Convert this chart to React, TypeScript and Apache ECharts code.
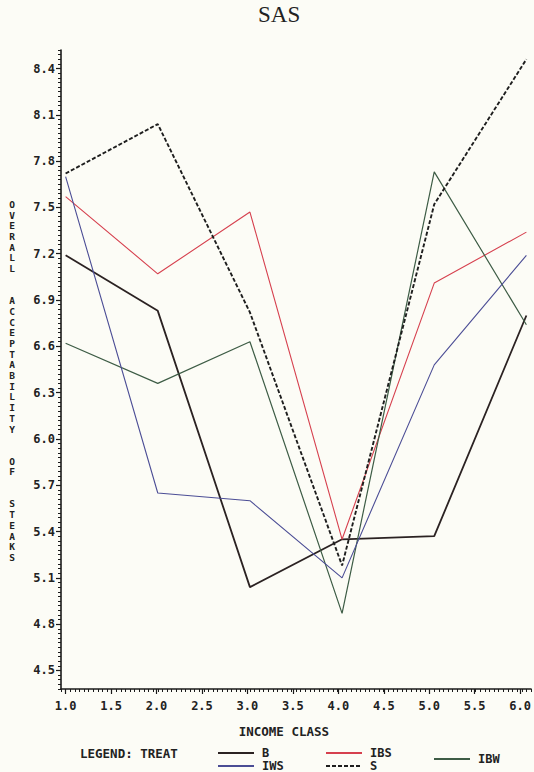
import React, { useEffect, useRef } from 'react';
import * as echarts from 'echarts';

const incomeClass = [1, 2, 3, 4, 5, 6];
const valuesB = [7.19, 6.83, 5.04, 5.35, 5.37, 6.8];
const valuesIBS = [7.57, 7.07, 7.47, 5.35, 7.01, 7.34];
const valuesIBW = [6.62, 6.36, 6.63, 4.87, 7.73, 6.74];
const valuesIWS = [7.7, 5.65, 5.6, 5.1, 6.48, 7.19];
const valuesS = [7.72, 8.04, 6.82, 5.18, 7.52, 8.46];

const yTitle = 'OVERALL  ACCEPTABILITY  OF  STEAKS';
const FONT = '"DejaVu Sans Mono", monospace';

const pairs = (vals: number[]) => incomeClass.map((x, i) => [x, vals[i]]);

export default function App() {
  const ref = useRef<HTMLDivElement>(null);
  useEffect(() => {
    if (!ref.current) return;
    const chart = echarts.init(ref.current, undefined, { renderer: 'svg' });
    const axisColor = '#1a1a1a';
    const mk = (name: string, vals: number[], color: string, width: number, type: any = 'solid') => ({
      name,
      type: 'line',
      xAxisIndex: 0,
      yAxisIndex: 0,
      data: pairs(vals),
      symbol: 'none',
      lineStyle: { color, width, type },
      itemStyle: { color },
      z: 3,
    });
    const legendText = { fontFamily: FONT, fontWeight: 'bold', fontSize: 12, color: '#222', padding: [0, 0, 0, 3] };
    const lg = (name: string, left: number, top: number) => ({
      data: [name],
      left,
      top,
      padding: 0,
      itemWidth: 36,
      itemHeight: 10,
      selectedMode: false,
      itemStyle: { opacity: 0, borderWidth: 0 },
      textStyle: legendText,
    });
    chart.setOption({
      animation: false,
      backgroundColor: 'transparent',
      title: {
        text: 'SAS',
        left: 258,
        top: 3,
        padding: 0,
        textStyle: { fontFamily: '"Liberation Serif", serif', fontWeight: 'normal', fontSize: 23, color: '#222' },
      },
      legend: [lg('B', 217, 747), lg('IWS', 217, 760), lg('IBS', 325, 747), lg('S', 325, 760), lg('IBW', 433, 753)],
      grid: [
        { left: 61, width: 470, top: 50, height: 639 },
        { left: 65.6, width: 460.8, top: 68.52, height: 601.96 },
      ],
      xAxis: [
        {
          type: 'value', gridIndex: 0, min: 0.95, max: 6.05, interval: 0.05,
          axisLine: { show: true, onZero: false, lineStyle: { color: axisColor, width: 1.6 } },
          axisTick: { show: true, length: 3, lineStyle: { color: axisColor, width: 1 } },
          axisLabel: { show: false },
          splitLine: { show: false },
        },
        {
          type: 'value', gridIndex: 1, min: 1, max: 6, interval: 0.5, offset: 18.5,
          axisLine: { show: false },
          axisTick: { show: true, length: 5, lineStyle: { color: axisColor, width: 1.2 } },
          axisLabel: { show: true, margin: 11, formatter: (v: number) => v.toFixed(1), fontFamily: FONT, fontWeight: 'bold', fontSize: 12, color: '#222' },
          splitLine: { show: false },
          name: 'INCOME CLASS',
          nameLocation: 'middle',
          nameGap: 36,
          nameTextStyle: { fontFamily: FONT, fontWeight: 'bold', fontSize: 12.5, color: '#222', padding: [0, 18, 0, 0] },
        },
      ],
      yAxis: [
        {
          type: 'value', gridIndex: 0, min: 4.38, max: 8.52, interval: 0.03,
          axisLine: { show: true, onZero: false, lineStyle: { color: axisColor, width: 1.6 } },
          axisTick: { show: true, length: 3, lineStyle: { color: axisColor, width: 1 } },
          axisLabel: { show: false },
          splitLine: { show: false },
        },
        {
          type: 'value', gridIndex: 1, min: 4.5, max: 8.4, interval: 0.3, offset: 4.6,
          axisLine: { show: false },
          axisTick: { show: true, length: 5, lineStyle: { color: axisColor, width: 1.2 } },
          axisLabel: { show: true, margin: 6, formatter: (v: number) => v.toFixed(1), fontFamily: FONT, fontWeight: 'bold', fontSize: 12, color: '#222' },
          splitLine: { show: false },
        },
      ],
      graphic: [
        {
          type: 'text', x: 12, y: 199,
          style: {
            text: yTitle.split('').join('\n'),
            font: `bold 9.5px ${FONT}`,
            lineHeight: 10.7,
            align: 'center',
            verticalAlign: 'top',
            fill: '#222',
          },
        },
        {
          type: 'text', x: 80, y: 753,
          style: { text: 'LEGEND: TREAT', font: `bold 12.5px ${FONT}`, align: 'left', verticalAlign: 'middle', fill: '#222' },
        },
      ],
      series: [
        mk('B', valuesB, '#2b2222', 1.8),
        mk('IBS', valuesIBS, '#d6404e', 1.1),
        mk('IBW', valuesIBW, '#3d5c45', 1.2),
        mk('IWS', valuesIWS, '#4b4d95', 1.1),
        mk('S', valuesS, '#1e1e1e', 1.9, [4, 2]),
      ],
    });
    return () => chart.dispose();
  }, []);
  return (
    <div
      ref={ref}
      style={{ position: 'absolute', left: 0, top: 0, width: 534, height: 772, background: '#fcfcf6' }}
    />
  );
}
